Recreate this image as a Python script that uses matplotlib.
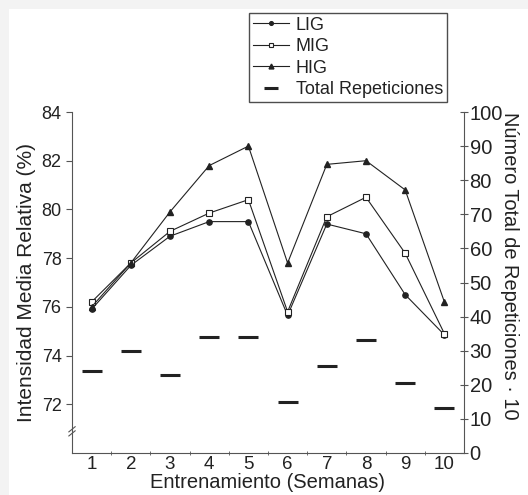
import numpy as np
import matplotlib
matplotlib.use("Agg")
import matplotlib.pyplot as plt
from matplotlib.patches import Rectangle

plt.rcParams['font.family'] = ['Liberation Sans', 'DejaVu Sans']

# DATOS
semanas = [1, 2, 3, 4, 5, 6, 7, 8, 9, 10]
lig = [75.9, 77.7, 78.9, 79.5, 79.5, 75.65, 79.4, 79.0, 76.5, 74.85]
mig = [76.2, 77.8, 79.1, 79.85, 80.4, 75.8, 79.7, 80.5, 78.2, 74.9]
hig = [76.0, 77.8, 79.9, 81.8, 82.6, 77.8, 81.85, 82.0, 80.8, 76.2]
total_rep = [24, 30, 23, 34, 34, 15, 25.5, 33, 20.5, 13.3]

gris = '#555555'
negro = '#222222'

fig = plt.figure(figsize=(5.28, 4.95), dpi=100, facecolor='#f3f3f3')
fig.patches.append(Rectangle((9/528, 0), 1, 1 - 9/495, transform=fig.transFigure,
                             facecolor='white', edgecolor='none', zorder=-10))

ax = fig.add_axes([72/528, 1 - 453/495, 392/528, 341/495])
ax.set_facecolor('none')
ax2 = ax.twinx()

l1, = ax.plot(semanas, lig, '-o', color=negro, lw=0.8, ms=3.8, mfc=negro, label='LIG')
l2, = ax.plot(semanas, mig, '-s', color=negro, lw=0.8, ms=4.8, mfc='white', mew=0.8, label='MIG')
l3, = ax.plot(semanas, hig, '-^', color=negro, lw=0.8, ms=5, mfc=negro, label='HIG')
l4, = ax2.plot(semanas, total_rep, '_', color=negro, ms=15, mew=2.2, linestyle='none',
               label='Total Repeticiones')

ax.set_xlim(0.5, 10.5)
ax.set_ylim(70, 84)
ax2.set_ylim(0, 100)
ax.set_yticks([72, 74, 76, 78, 80, 82, 84])
ax2.set_yticks(range(0, 101, 10))
ax.set_xticks(semanas)
ax.set_xticks(np.arange(1.5, 10.5, 1), minor=True)
ax.tick_params(axis='x', which='major', length=0, labelsize=13.5, colors=negro, pad=2)
ax.tick_params(axis='x', which='minor', length=3, direction='inout', color=gris)
ax.tick_params(axis='y', labelsize=13, length=4, color=gris, labelcolor=negro)
ax2.tick_params(axis='y', labelsize=14.5, length=6, direction='inout', color=gris,
                labelcolor=negro, pad=1)

for a in (ax, ax2):
    a.spines['top'].set_visible(False)
    for s in ('left', 'right', 'bottom'):
        a.spines[s].set_color(gris)
ax.spines['right'].set_visible(False)
ax2.spines['left'].set_visible(False)
ax2.spines['bottom'].set_visible(False)

# Marca de corte en el eje izquierdo
for dy in (0.0, 0.012):
    ax.plot([-0.008, 0.008], [0.05 + dy, 0.065 + dy], transform=ax.transAxes,
            color=gris, lw=0.8, clip_on=False)

ax.set_xlabel('Entrenamiento (Semanas)', fontsize=14.5, color=negro, labelpad=0)
ax.set_ylabel('Intensidad Media Relativa (%)', fontsize=15, color=negro, labelpad=4)
ax2.set_ylabel('Número Total de Repeticiones · 10', fontsize=14.4, color=negro,
               rotation=270, labelpad=16)
ax2.yaxis.set_label_coords(1.14, 0.55)

leg = fig.legend(handles=[l1, l2, l3, l4], loc='upper left',
                 bbox_to_anchor=(249/528, 1 - 13/495), fontsize=13,
                 frameon=True, fancybox=False, handlelength=2.0, markerscale=0.7,
                 handletextpad=0.4, labelspacing=0.25, borderpad=0.2,
                 borderaxespad=0)
leg.get_frame().set_edgecolor(negro)
leg.get_frame().set_linewidth(1.0)
for t in leg.get_texts():
    t.set_color(negro)

fig.savefig('out.png', dpi=100, facecolor=fig.get_facecolor())
